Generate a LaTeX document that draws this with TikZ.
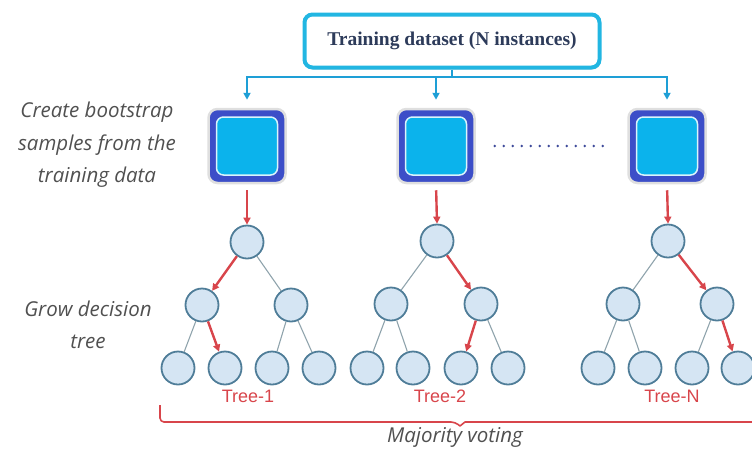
\documentclass[tikz,border=0pt]{standalone}
\usepackage{fontspec}
\setmainfont{Liberation Serif}
\newfontfamily\handfont{Open Sans}
\newfontfamily\labfont{Liberation Sans}
\usetikzlibrary{arrows.meta,shadows}
\definecolor{boxblue}{HTML}{3C4EC8}
\definecolor{boxcyan}{HTML}{0BB3EC}
\definecolor{topcyan}{HTML}{22B6E2}
\definecolor{conncyan}{HTML}{1E9FD6}
\definecolor{treefill}{HTML}{D5E5F3}
\definecolor{treeborder}{HTML}{4F7D98}
\definecolor{edgegray}{HTML}{8FA3AC}
\definecolor{redc}{HTML}{D8454B}
\definecolor{textgray}{HTML}{505050}
\definecolor{navy}{HTML}{2D3B5A}
\definecolor{dotblue}{HTML}{3E4A9A}
\begin{document}
\begin{tikzpicture}[x=1pt,y=-1pt,
  tn/.style={circle, draw=treeborder, fill=treefill, line width=1.8pt, minimum size=33pt, inner sep=0pt},
  gedge/.style={draw=edgegray, line width=1.1pt},
  redge/.style={draw=redc, line width=2.4pt, -{Triangle[length=7pt,width=7pt]}},
  outerbox/.style={rectangle, rounded corners=9pt, fill=boxblue, draw=gray!25, line width=2.5pt, minimum width=77pt, minimum height=74pt, inner sep=0pt},
  innerbox/.style={rectangle, rounded corners=7pt, fill=boxcyan, draw=white!85!boxcyan, line width=1.5pt, minimum width=61pt, minimum height=58pt, inner sep=0pt},
  cyanarrow/.style={draw=conncyan, line width=1.8pt, -{Triangle[length=7pt,width=7pt]}},
  handtext/.style={font=\handfont\itshape\fontsize{20.5}{32.5}\selectfont, text=textgray, align=center},
  treelab/.style={font=\labfont\fontsize{18}{20}\selectfont, text=redc}
]
\useasboundingbox (0,0) rectangle (752,448);

% top box
\node[draw=topcyan, line width=4pt, rounded corners=8pt, fill=white,
      minimum width=295pt, minimum height=53pt,
      drop shadow={opacity=0.25, shadow xshift=1pt, shadow yshift=-2pt},
      font=\bfseries\fontsize{19.5}{22}\selectfont, text=navy] (top) at (452,41) {Training dataset (N instances)};

% bootstrap boxes
\foreach \n/\x in {b1/247, b2/436, b3/667} {
  \node[outerbox] (\n) at (\x,146) {};
  \node[innerbox] (\n i) at (\x,146) {};
}

% cyan connectors
\coordinate (hub) at (452,77);
\draw[draw=conncyan, line width=1.8pt] (top.south) -- (hub);
\draw[cyanarrow, shorten >=8pt] (hub) -| (b1.north);
\draw[cyanarrow, shorten >=8pt] (hub) -| (b2.north);
\draw[cyanarrow, shorten >=8pt] (hub) -| (b3.north);

% dotted
\draw[dotblue, line width=2.6pt, line cap=round, dash pattern=on 0pt off 9pt, shorten <=19pt, shorten >=17pt] (b2.east) -- (b3.west);

% left texts
\node[handtext] (bootlab) at (97,145) {Create bootstrap\\samples from the\\training data};
\node[handtext] (growlab) at (88,325) {Grow decision\\tree};

% trees
% Tree 1
\node[tn] (t1r) at (247,242) {};
\node[tn] (t1a) at (202,305) {};
\node[tn] (t1b) at (291,305) {};
\node[tn] (t1aa) at (178,368) {};
\node[tn] (t1ab) at (225,368) {};
\node[tn] (t1ba) at (272,368) {};
\node[tn] (t1bb) at (319,368) {};
% Tree 2
\node[tn] (t2r) at (437,241) {};
\node[tn] (t2a) at (391,304) {};
\node[tn] (t2b) at (481,304) {};
\node[tn] (t2aa) at (367,368) {};
\node[tn] (t2ab) at (413,368) {};
\node[tn] (t2ba) at (461,368) {};
\node[tn] (t2bb) at (508,368) {};
% Tree N
\node[tn] (t3r) at (668,241) {};
\node[tn] (t3a) at (623,304) {};
\node[tn] (t3b) at (717,304) {};
\node[tn] (t3aa) at (598,368) {};
\node[tn] (t3ab) at (645,368) {};
\node[tn] (t3ba) at (692,368) {};
\node[tn] (t3bb) at (738,368) {};

% gray edges
\draw[gedge] (t1r) -- (t1b);
\draw[gedge] (t1a) -- (t1aa);
\draw[gedge] (t1b) -- (t1ba);
\draw[gedge] (t1b) -- (t1bb);
\draw[gedge] (t2r) -- (t2a);
\draw[gedge] (t2a) -- (t2aa);
\draw[gedge] (t2a) -- (t2ab);
\draw[gedge] (t2b) -- (t2bb);
\draw[gedge] (t3r) -- (t3a);
\draw[gedge] (t3a) -- (t3aa);
\draw[gedge] (t3a) -- (t3ab);
\draw[gedge] (t3b) -- (t3ba);

% red paths
\draw[redge, shorten <=6pt] (b1.south) -- (t1r.north);
\draw[redge, shorten <=6pt] (b2.south) -- (t2r.north);
\draw[redge, shorten <=6pt] (b3.south) -- (t3r.north);
\draw[redge] (t1r) -- (t1a);
\draw[redge] (t1a) -- (t1ab);
\draw[redge] (t2r) -- (t2b);
\draw[redge] (t2b) -- (t2ba);
\draw[redge] (t3r) -- (t3b);
\draw[redge] (t3b) -- (t3bb);

% tree labels
\node[treelab] (l1) at (248,396) {Tree-1};
\node[treelab] (l2) at (440,396) {Tree-2};
\node[treelab] (l3) at (672,396) {Tree-N};

% brace
\coordinate (brL) at (160,405);
\coordinate (brM) at (460,422);
\coordinate (brR) at (760,422);
\draw[redc, line width=1.6pt, line join=round] (brL) [rounded corners=4pt] |- ([xshift=-5pt]brM) [sharp corners] -- ([yshift=-4pt]brM) -- ([xshift=5pt]brM) -- (brR);

\node[handtext] (vote) at (455,437) {Majority voting};
\end{tikzpicture}
\end{document}
